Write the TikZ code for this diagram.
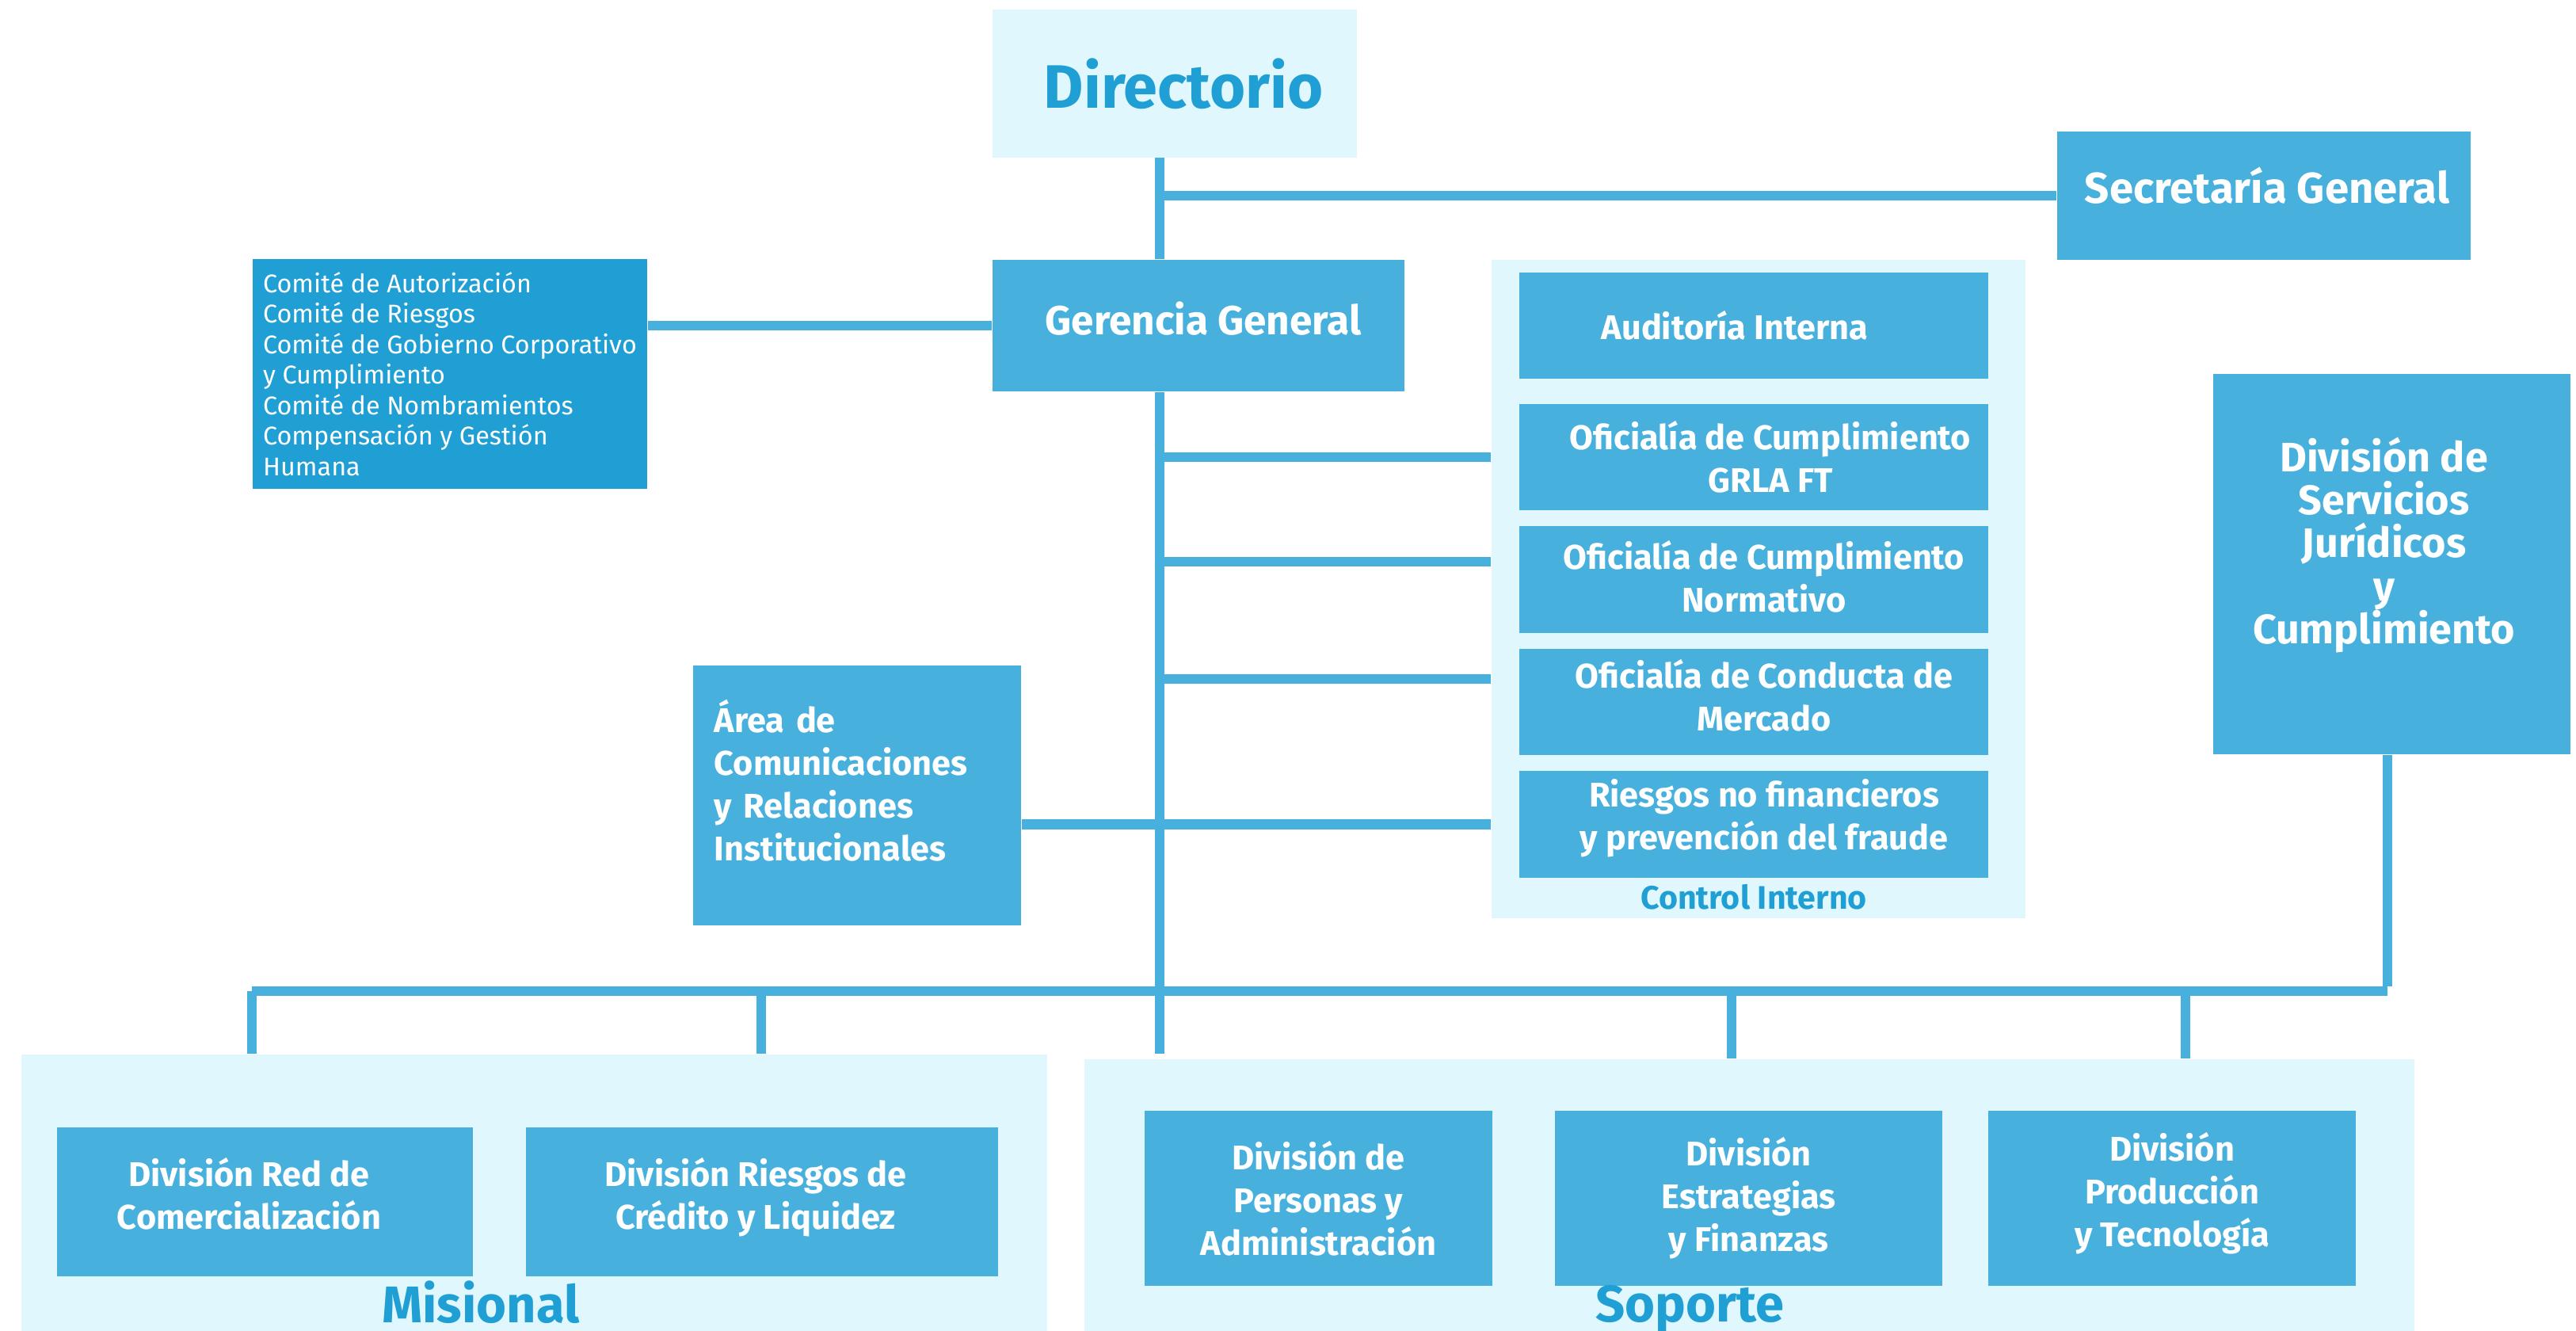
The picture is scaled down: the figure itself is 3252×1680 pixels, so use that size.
\documentclass[tikz,border=0pt]{standalone}
\usepackage{fontspec}
\setmainfont{Fira Sans}
\usetikzlibrary{positioning,calc}

\definecolor{boxblue}{HTML}{47B0DD}
\definecolor{deepblue}{HTML}{209FD5}
\definecolor{paleblue}{HTML}{E0F8FD}

\begin{document}
\begin{tikzpicture}[x=0.01cm,y=-0.01cm,
  unit/.style={fill=boxblue,inner sep=0pt},
  ctrl/.style={unit,minimum width=5.92cm,minimum height=1.34cm},
  caption/.style={text=white,align=center,inner sep=0pt,font=\bfseries\fontsize{12.3}{15.4}\selectfont},
  group/.style={fill=paleblue,inner sep=0pt},
  wire/.style={draw=boxblue,line width=0.12cm},
  grouptitle/.style={text=deepblue,inner sep=0pt,anchor=base,font=\bfseries\fontsize{18.5}{22}\selectfont}]
\useasboundingbox (0,0) rectangle (3252,1680);

% grouping panels
\node[group,minimum width=6.74cm,minimum height=8.31cm] (ci) at (2220,743.5) {};
\node[group,minimum width=12.95cm,minimum height=3.49cm] (mis) at (674.5,1505.5) {};
\node[group,minimum width=16.78cm,minimum height=3.43cm] (sop) at (2208,1508.5) {};

% top of the chart
\node[group,minimum width=4.6cm,minimum height=1.87cm,
  label={[text=deepblue,inner sep=0pt,shift={(11,0)},font=\bfseries\fontsize{22}{26}\selectfont]center:Directorio}] (dir) at (1483,105.5) {};
\node[unit,minimum width=5.22cm,minimum height=1.62cm,
  label={[caption,shift={(4,-13)},font=\bfseries\fontsize{15.5}{18}\selectfont]center:Secretaría General}] (sec) at (2858,247) {};
\node[unit,minimum width=5.2cm,minimum height=1.66cm,
  label={[caption,shift={(6,-9)},font=\bfseries\fontsize{14.6}{18}\selectfont]center:Gerencia General}] (ger) at (1513,411) {};
\node[fill=deepblue,text=white,align=left,inner sep=0pt,minimum width=4.98cm,minimum height=2.9cm,
  font=\fontsize{9.2}{10.96}\selectfont] (com) at (568,472)
  {Comité de Autorización\\Comité de Riesgos\\Comité de Gobierno Corporativo\\y Cumplimiento\\Comité de Nombramientos\\Compensación y Gestión\\Humana};
\node[unit,minimum width=4.14cm,minimum height=3.28cm,
  label={[caption,align=left,text width=3.6cm,shift={(0,-19)}]center:{Área de\\Comunicaciones\\y Relaciones\\Institucionales}}] (are) at (1082,1004) {};
\node[unit,minimum width=4.51cm,minimum height=4.8cm,
  label={[caption,shift={(-10,-24)},font=\bfseries\fontsize{14.8}{15.4}\selectfont]center:{División de\\Servicios\\Jurídicos\\y\\Cumplimiento}}] (jur) at (3019.5,712) {};

% control interno
\node[ctrl,label={[caption,shift={(-24,0)}]center:Auditoría Interna}] (aud) at (2214,411) {};
\node[ctrl,label={[caption,shift={(21,0)}]center:{Oficialía de Cumplimiento\\GRLA FT}}] (grl) at (2214,577) {};
\node[ctrl,label={[caption,shift={(13,-4)}]center:{Oficialía de Cumplimiento\\Normativo}}] (nor) at (2214,731.5) {};
\node[ctrl,label={[caption,shift={(13,-8)}]center:{Oficialía de Conducta de\\Mercado}}] (mer) at (2214,886) {};
\node[ctrl,label={[caption,shift={(13,-8)}]center:{Riesgos no financieros\\y prevención del fraude}}] (rnf) at (2214,1040.5) {};
\node[text=deepblue,inner sep=0pt,font=\bfseries\fontsize{11.7}{14}\selectfont] (cilab) at (2214,1132) {Control Interno};

% misional
\node[unit,minimum width=5.25cm,minimum height=1.88cm,
  label={[caption,shift={(-20,-10)}]center:{División Red de\\Comercialización}}] (red) at (334.5,1517) {};
\node[unit,minimum width=5.96cm,minimum height=1.88cm,
  label={[caption,shift={(-8,-6)}]center:{División Riesgos de\\Crédito y Liquidez}}] (cre) at (962,1517) {};
\node[grouptitle] (mislab) at (607,1669) {Misional};

% soporte
\node[unit,minimum width=4.39cm,minimum height=2.21cm,
  label={[caption]center:{División de\\Personas y\\Administración}}] (per) at (1664.5,1512.5) {};
\node[unit,minimum width=4.89cm,minimum height=2.21cm,
  label={[caption]center:{División\\Estrategias\\y Finanzas}}] (est) at (2207.5,1512.5) {};
\node[unit,minimum width=4.64cm,minimum height=2.21cm,
  label={[caption,shift={(0,-6)}]center:{División\\Producción\\y Tecnología}}] (pro) at (2742,1512.5) {};
\node[grouptitle] (soplab) at (2133,1668) {Soporte};

% trunk and its branches
\coordinate (tk) at (1464,199);
\coordinate (j2) at (1464,709);
\coordinate (j3) at (1464,857);
\draw[wire] (tk) -- (tk |- ger.north);
\draw[wire] (tk |- ger.south) -- (tk |- mis.north);
\draw[wire] (tk |- sec.west) -- (sec.west);
\draw[wire] (com.east |- ger.west) -- (ger.west);
\draw[wire] (tk |- grl.west) -- (grl.west -| ci.west);
\draw[wire] (j2) -- (j2 -| ci.west);
\draw[wire] (j3) -- (j3 -| ci.west);
\draw[wire] (are.east |- rnf.west) -- (rnf.west -| ci.west);

% bus to the divisions
\coordinate (b1) at (318,1251);
\coordinate (b2) at (961,1251);
\coordinate (b4) at (2186,1251);
\coordinate (b5) at (2759,1251);
\coordinate (b6) at (3014,1251);
\draw[wire] (b1) -- (b6);
\draw[wire] (b6 |- jur.south) -- ([yshift=0.06cm]b6);
\draw[wire] (b1) -- (b1 |- mis.north);
\draw[wire] (b2) -- (b2 |- mis.north);
\draw[wire] (b4) -- (b4 |- sop.north);
\draw[wire] (b5) -- (b5 |- sop.north);
\end{tikzpicture}
\end{document}
